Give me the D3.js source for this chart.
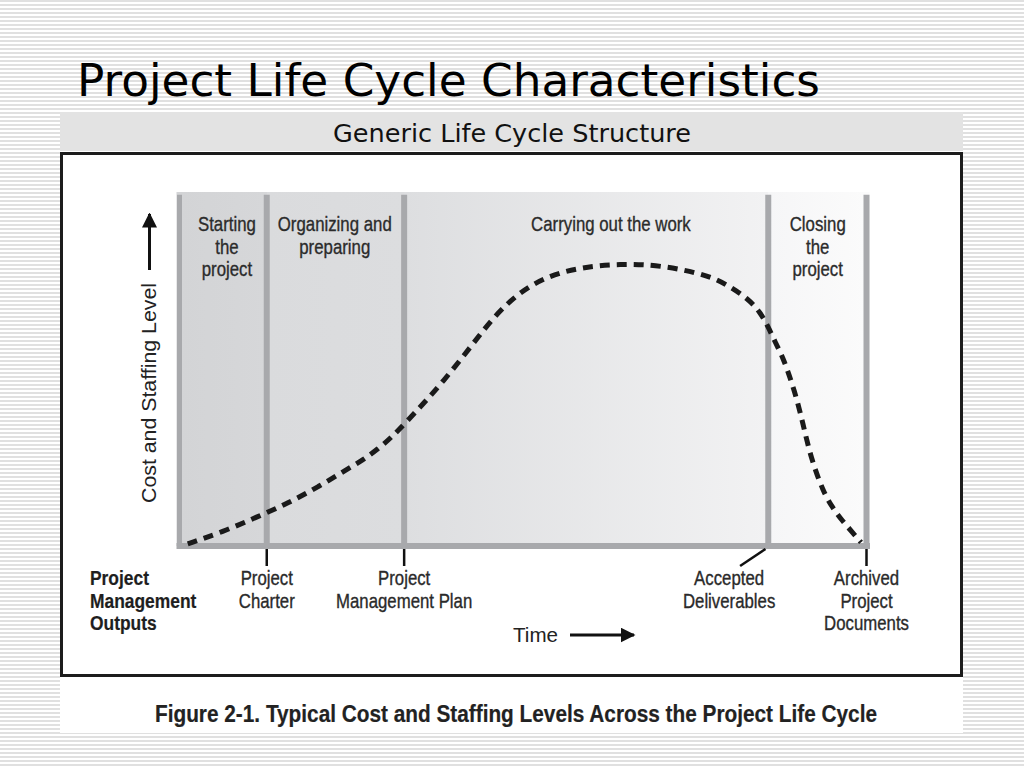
<!DOCTYPE html>
<html><head><meta charset="utf-8">
<script src="https://cdn.jsdelivr.net/npm/d3@7"></script>
<style>html,body{margin:0;padding:0;background:#fff}svg{display:block}</style>
</head><body>
<svg id="c" width="1024" height="768"></svg>
<script>
// ---------- data ----------
const titleText = "Project Life Cycle Characteristics";
const subtitleText = "Generic Life Cycle Structure";
const captionText = "Figure 2-1. Typical Cost and Staffing Levels Across the Project Life Cycle";
const yAxisLabel = "Cost and Staffing Level";
const xAxisLabel = "Time";
const phaseBounds = [0, 12.7, 32.7, 85.7, 100];
const phaseLabels = [["Starting", "the", "project"], ["Organizing and", "preparing"], ["Carrying out the work"], ["Closing", "the", "project"]];
const phaseLabelAt = [6.9, 22.6, 62.8, 92.9];
const outputsHeading = ["Project", "Management", "Outputs"];
const outputLabels = [["Project", "Charter"], ["Project", "Management Plan"], ["Accepted", "Deliverables"], ["Archived", "Project", "Documents"]];
const outputAt = [12.7, 32.7, 85.3, 100];
const outputLabelAt = [12.7, 32.7, 80.0, 100];
const curveTime = [1.2, 6.3, 11.3, 15.8, 20.2, 24.5, 26.7, 28.9, 30.9, 32.5, 36.0, 39.4, 42.6, 45.6, 49.3, 53.6, 58.6, 64.1, 69.9, 76.8, 79.8, 82.8, 84.5, 85.7, 86.7, 87.9, 89.6, 90.8, 91.9, 93.7, 95.0, 96.4, 98.3, 99.2];
const curveLevel = [0.6, 4.0, 8.2, 12.1, 16.7, 21.8, 24.3, 27.4, 30.8, 34.0, 41.2, 48.9, 56.8, 64.4, 71.5, 76.3, 78.8, 79.7, 79.4, 76.6, 73.7, 69.8, 66.1, 61.9, 57.6, 53.1, 43.5, 34.2, 24.9, 15.3, 11.0, 7.3, 3.1, 1.0];

// ---------- drawing ----------
const svg = d3.select("#c");
const defs = svg.append("defs");
const sans = "'Liberation Sans', Arial, Helvetica, sans-serif";
const verdana = "'DejaVu Sans', Verdana, sans-serif";

// condensed multi-line text: horizontally squeezed Liberation Sans
function narrowText(px, py, lines, opt) {
  const g = svg.append("g").attr("transform", `translate(${px},${py}) scale(${opt.sx},1)`);
  const fill = opt.fill || "#2a2a2a";
  const t = g.append("text").attr("font-family", sans).attr("font-size", opt.size)
    .attr("font-weight", opt.weight || "normal").attr("fill", fill)
    .attr("stroke", fill).attr("stroke-width", opt.sw || 0.35)
    .attr("text-anchor", opt.anchor || "middle");
  lines.forEach((ln, j) => t.append("tspan").attr("x", 0).attr("y", j * opt.lh).text(ln));
  return g;
}

// striped background
const pat = defs.append("pattern").attr("id", "stripes").attr("patternUnits", "userSpaceOnUse")
  .attr("width", 8).attr("height", 4);
pat.append("rect").attr("width", 8).attr("height", 4).attr("fill", "#ffffff");
pat.append("rect").attr("width", 8).attr("height", 2).attr("fill", "#e0e0e0");
svg.append("rect").attr("width", 1024).attr("height", 768).attr("fill", "url(#stripes)");

// white slide panel + header band
svg.append("rect").attr("x", 60).attr("y", 112).attr("width", 903).attr("height", 621).attr("fill", "#fff");
svg.append("rect").attr("x", 60).attr("y", 112).attr("width", 903).attr("height", 39).attr("fill", "#e3e3e3");
svg.append("rect").attr("x", 61.5).attr("y", 153.5).attr("width", 900).attr("height", 522)
  .attr("fill", "#fff").attr("stroke", "#1c1c1c").attr("stroke-width", 3);

// title & subtitle
svg.append("text").attr("x", 77).attr("y", 96).attr("font-family", verdana).attr("font-size", 45)
  .attr("fill", "#000").attr("textLength", 743).attr("lengthAdjust", "spacingAndGlyphs").text(titleText);
svg.append("text").attr("x", 333).attr("y", 142).attr("font-family", verdana).attr("font-size", 24)
  .attr("fill", "#111").attr("textLength", 358).attr("lengthAdjust", "spacingAndGlyphs").text(subtitleText);

// scales
const x = d3.scaleLinear().domain([0, 100]).range([179.5, 866.5]);
const y = d3.scaleLinear().domain([0, 100]).range([546, 192]);

// phase background gradient
const grad = defs.append("linearGradient").attr("id", "phaseGrad").attr("gradientUnits", "userSpaceOnUse")
  .attr("x1", x(0)).attr("x2", x(100)).attr("y1", 0).attr("y2", 0);
const stops = [
  [phaseBounds[0], "#d3d4d6"], [phaseBounds[1], "#d6d7d9"],
  [phaseBounds[1], "#dadbdd"], [phaseBounds[2], "#dcdddf"],
  [phaseBounds[2], "#dddee0"], [phaseBounds[3], "#f2f2f3"],
  [phaseBounds[3], "#f6f6f7"], [phaseBounds[4], "#fbfbfb"]
];
stops.forEach(s => grad.append("stop").attr("offset", s[0] + "%").attr("stop-color", s[1]));
svg.append("rect").attr("x", x(0) - 3).attr("y", y(100)).attr("width", x(100) - x(0) + 6)
  .attr("height", y(0) - y(100)).attr("fill", "url(#phaseGrad)");

// phase divider lines
svg.append("g").selectAll("line").data(phaseBounds).join("line")
  .attr("x1", d => x(d)).attr("x2", d => x(d))
  .attr("y1", y(99.2)).attr("y2", y(0))
  .attr("stroke", "#a8a9ac").attr("stroke-width", d => (d === 0 ? 5 : 6));
// base axis
svg.append("line").attr("x1", x(0) - 3).attr("x2", x(100) + 3.5).attr("y1", y(0)).attr("y2", y(0))
  .attr("stroke", "#a8a9ac").attr("stroke-width", 6);

// phase labels
phaseLabels.forEach((lines, i) => {
  narrowText(x(phaseLabelAt[i]), 231, lines, { size: 20.5, sx: 0.82, lh: 22.7, fill: "#2b2b2b" });
});

// curve
const line = d3.line().x(d => x(d[0])).y(d => y(d[1])).curve(d3.curveBasis);
const pts = curveTime.map((t, i) => [t, curveLevel[i]]);
svg.append("path").attr("d", line(pts)).attr("fill", "none").attr("stroke", "#1a1a1a")
  .attr("stroke-width", 5).attr("stroke-dasharray", "10,7");

// y axis arrow + label
defs.append("marker").attr("id", "arr").attr("viewBox", "0 0 10 10").attr("refX", 9).attr("refY", 5)
  .attr("markerWidth", 5).attr("markerHeight", 5).attr("markerUnits", "strokeWidth").attr("orient", "auto")
  .append("path").attr("d", "M0,0 L10,5 L0,10 Z").attr("fill", "#111");
svg.append("line").attr("x1", 149.5).attr("x2", 149.5).attr("y1", 270).attr("y2", 214)
  .attr("stroke", "#111").attr("stroke-width", 3).attr("marker-end", "url(#arr)");
svg.append("text").attr("transform", "translate(156,393) rotate(-90)").attr("text-anchor", "middle")
  .attr("font-family", sans).attr("font-size", 20.5).attr("fill", "#222")
  .attr("textLength", 220).attr("lengthAdjust", "spacingAndGlyphs").text(yAxisLabel);

// x axis label + arrow
svg.append("text").attr("x", 513).attr("y", 642).attr("font-family", sans)
  .attr("font-size", 20).attr("fill", "#222").attr("textLength", 45).attr("lengthAdjust", "spacingAndGlyphs").text(xAxisLabel);
svg.append("line").attr("x1", 570).attr("x2", 634).attr("y1", 635).attr("y2", 635)
  .attr("stroke", "#111").attr("stroke-width", 3).attr("marker-end", "url(#arr)");

// outputs heading
narrowText(90, 585, outputsHeading, { size: 20, sx: 0.87, lh: 22.7, weight: "bold", anchor: "start", fill: "#1e1e1e", sw: 0.2 });

// output ticks + labels
outputAt.forEach((t, i) => {
  const lx = x(outputLabelAt[i]);
  svg.append("line").attr("x1", x(t)).attr("y1", y(0) + 3).attr("x2", i === 2 ? lx + 11 : lx).attr("y2", 566)
    .attr("stroke", "#111").attr("stroke-width", 2.5);
  narrowText(lx, 585, outputLabels[i], { size: 20, sx: 0.84, lh: 22.7, fill: "#2a2a2a" });
});

// caption
svg.append("text").attr("x", 155).attr("y", 722).attr("font-family", sans).attr("font-size", 23.5)
  .attr("font-weight", "bold").attr("fill", "#222").attr("stroke", "#222").attr("stroke-width", 0.2)
  .attr("textLength", 722).attr("lengthAdjust", "spacingAndGlyphs").text(captionText);
</script>
</body></html>
